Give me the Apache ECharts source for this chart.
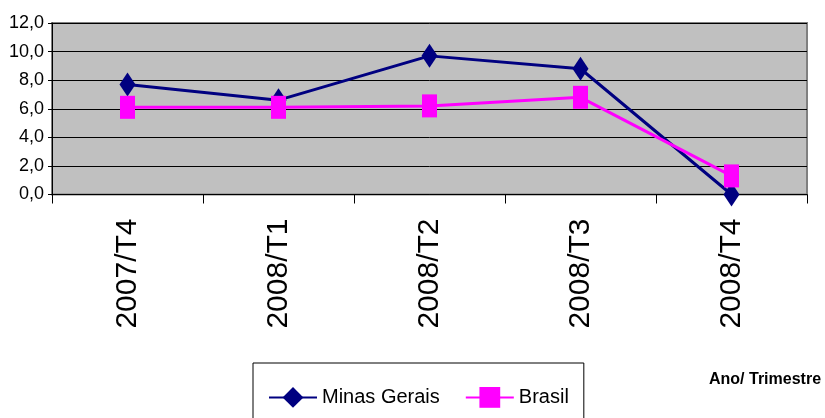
<!DOCTYPE html>
<html>
<head>
<meta charset="utf-8">
<script src="https://cdn.jsdelivr.net/npm/echarts@6/dist/echarts.min.js"></script>
<style>
html,body{margin:0;padding:0;background:#fff;}
#chart{width:825px;height:418px;}
</style>
</head>
<body>
<div id="chart"></div>
<script>
const categories = ['2007/T4', '2008/T1', '2008/T2', '2008/T3', '2008/T4'];
const minasGerais = [7.7, 6.6, 9.7, 8.8, 0.0];
const brasil = [6.1, 6.1, 6.2, 6.8, 1.3];
const yMin = 0, yMax = 12, yStep = 2;

const SANS = "'Liberation Sans', Arial, sans-serif";

const chart = echarts.init(document.getElementById('chart'), null, {renderer: 'canvas'});
chart.setOption({
  animation: false,
  backgroundColor: '#ffffff',
  grid: {
    left: 52, right: 18, top: 23, bottom: 223.5,
    show: true, backgroundColor: '#c0c0c0', borderColor: '#808080', borderWidth: 2
  },
  xAxis: {
    type: 'category',
    data: categories,
    boundaryGap: true,
    axisLine: {lineStyle: {color: '#000', width: 1}},
    axisTick: {show: true, length: 9, lineStyle: {color: '#000'}},
    axisLabel: {rotate: 90, margin: 24, fontSize: 30, color: '#000', fontFamily: SANS}
  },
  yAxis: {
    type: 'value',
    min: yMin, max: yMax, interval: yStep,
    axisLine: {show: true, lineStyle: {color: '#000', width: 1}},
    axisTick: {show: true, length: 4, lineStyle: {color: '#000'}},
    splitLine: {show: true, lineStyle: {color: '#000', width: 1}},
    axisLabel: {
      fontSize: 18, color: '#000', fontFamily: SANS, margin: 8,
      formatter: v => v.toFixed(1).replace('.', ',')
    }
  },
  legend: {
    left: 253, top: 363,
    padding: [24, 15, 40, 15],
    borderColor: '#000', borderWidth: 1,
    itemWidth: 48, itemHeight: 26, itemGap: 25,
    textStyle: {fontSize: 20, color: '#000', fontFamily: SANS},
    data: ['Minas Gerais', 'Brasil']
  },
  graphic: [{
    type: 'text', left: 709, top: 372,
    style: {text: 'Ano/ Trimestre', font: "bold 16px " + SANS, fill: '#000'}
  }],
  series: [
    {
      name: 'Minas Gerais', type: 'line', data: minasGerais,
      symbol: 'diamond', symbolSize: [16, 24],
      lineStyle: {color: '#000080', width: 3},
      itemStyle: {color: '#000080'}
    },
    {
      name: 'Brasil', type: 'line', data: brasil,
      symbol: 'rect', symbolSize: [15, 23],
      lineStyle: {color: '#ff00ff', width: 3},
      itemStyle: {color: '#ff00ff'}
    }
  ]
});
</script>
</body>
</html>
